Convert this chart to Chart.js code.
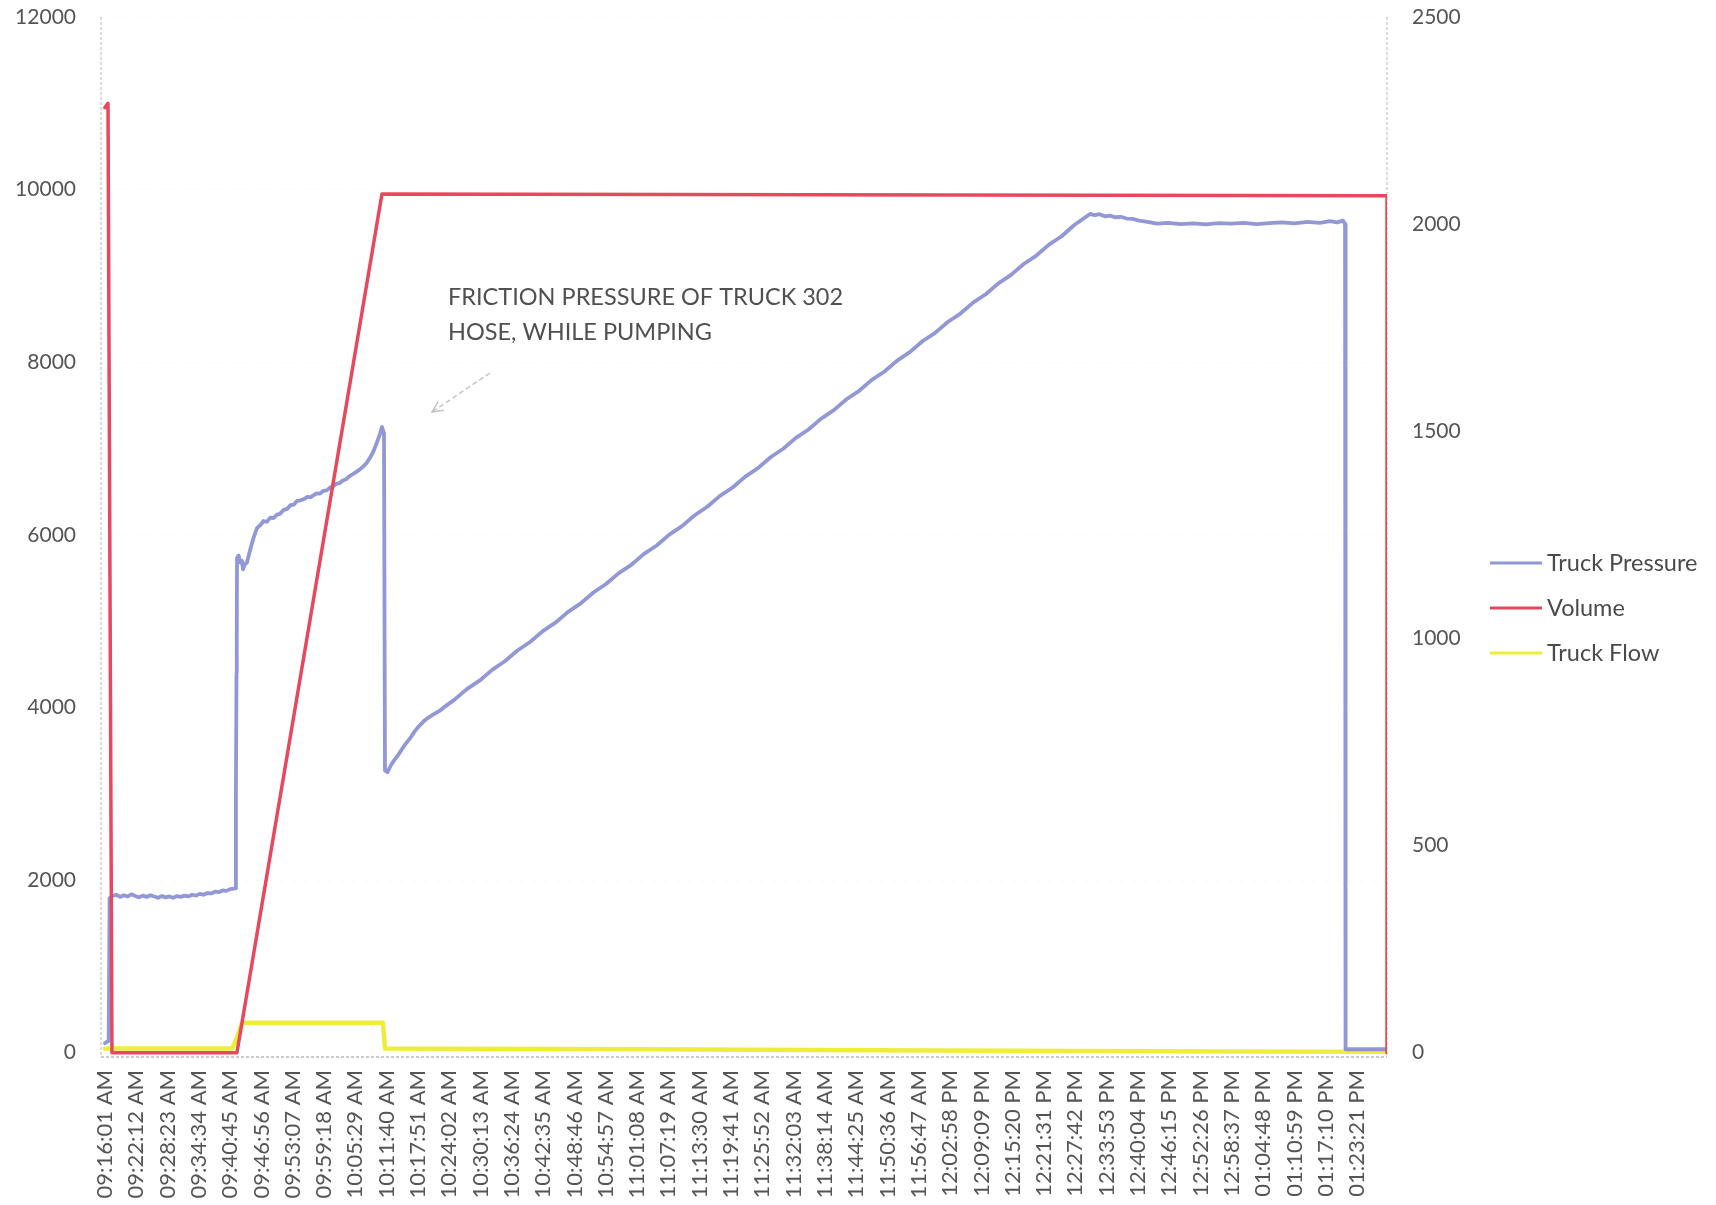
<!DOCTYPE html>
<html>
<head>
<meta charset="utf-8">
<title>Truck 302 pumping record</title>
<script src="https://cdn.jsdelivr.net/npm/chart.js@4.4.1/dist/chart.umd.min.js"></script>
<style>
  html, body { margin: 0; padding: 0; background: #ffffff; }
  #wrap { width: 1716px; height: 1205px; }
</style>
</head>
<body>
<div id="wrap"><canvas id="chart" width="1716" height="1205"></canvas></div>
<script>
// ---- Time axis ---------------------------------------------------------
const START_TIME = '09:16:01';

const timeLabels = [
  '09:16:01 AM', '09:22:12 AM', '09:28:23 AM', '09:34:34 AM', '09:40:45 AM',
  '09:46:56 AM', '09:53:07 AM', '09:59:18 AM', '10:05:29 AM', '10:11:40 AM',
  '10:17:51 AM', '10:24:02 AM', '10:30:13 AM', '10:36:24 AM', '10:42:35 AM',
  '10:48:46 AM', '10:54:57 AM', '11:01:08 AM', '11:07:19 AM', '11:13:30 AM',
  '11:19:41 AM', '11:25:52 AM', '11:32:03 AM', '11:38:14 AM', '11:44:25 AM',
  '11:50:36 AM', '11:56:47 AM', '12:02:58 PM', '12:09:09 PM', '12:15:20 PM',
  '12:21:31 PM', '12:27:42 PM', '12:33:53 PM', '12:40:04 PM', '12:46:15 PM',
  '12:52:26 PM', '12:58:37 PM', '01:04:48 PM', '01:10:59 PM', '01:17:10 PM',
  '01:23:21 PM'
];

// ---- Value axes ----------------------------------------------------------
const pressureTicks = [0, 2000, 4000, 6000, 8000, 10000, 12000];
const flowTicks = [0, 500, 1000, 1500, 2000, 2500];

// ---- Truck Pressure (psi, left axis) -----------------------------------
const pressureTimes = [
  '09:16:01', '09:16:45', '09:16:56', '09:17:30', '09:18:15', '09:19:00', '09:19:45',
  '09:20:30', '09:21:15', '09:22:00', '09:22:45', '09:23:30', '09:24:15', '09:25:00',
  '09:25:45', '09:26:30', '09:27:15', '09:28:00', '09:28:45', '09:29:30', '09:30:15',
  '09:31:00', '09:31:45', '09:32:30', '09:33:15', '09:34:00', '09:34:45', '09:35:30',
  '09:36:15', '09:37:00', '09:37:45', '09:38:30', '09:39:15', '09:40:00', '09:40:45',
  '09:41:30', '09:41:50', '09:41:53', '09:42:00', '09:42:03', '09:42:06', '09:42:25',
  '09:42:45', '09:43:05', '09:43:17', '09:43:40', '09:44:04', '09:44:40', '09:45:20',
  '09:46:03', '09:46:40', '09:47:20', '09:48:00', '09:48:40', '09:49:20', '09:50:00',
  '09:50:35', '09:51:20', '09:52:00', '09:52:40', '09:53:20', '09:53:57', '09:54:40',
  '09:55:20', '09:56:00', '09:56:40', '09:57:06', '09:57:50', '09:58:30', '09:59:10',
  '09:59:50', '10:00:30', '10:01:03', '10:01:40', '10:02:20', '10:03:00', '10:03:40',
  '10:04:20', '10:05:01', '10:05:40', '10:06:20', '10:07:00', '10:07:40', '10:08:22',
  '10:09:00', '10:09:40', '10:10:21', '10:10:44', '10:11:08', '10:11:20', '10:11:50',
  '10:12:30', '10:13:10', '10:13:50', '10:14:30', '10:15:10', '10:15:50', '10:16:30',
  '10:17:10', '10:17:50', '10:18:30', '10:19:10', '10:19:50', '10:20:40', '10:21:30',
  '10:22:20', '10:23:10', '10:25:00', '10:27:30', '10:30:00', '10:32:30', '10:35:00',
  '10:37:30', '10:40:00', '10:42:30', '10:45:00', '10:47:30', '10:50:00', '10:52:30',
  '10:55:00', '10:57:30', '11:00:00', '11:02:30', '11:05:00', '11:07:30', '11:10:00',
  '11:12:30', '11:15:00', '11:17:30', '11:20:00', '11:22:30', '11:25:00', '11:27:30',
  '11:30:00', '11:32:30', '11:35:00', '11:37:30', '11:40:00', '11:42:30', '11:45:00',
  '11:47:30', '11:50:00', '11:52:30', '11:55:00', '11:57:30', '12:00:00', '12:02:30',
  '12:05:00', '12:07:30', '12:10:00', '12:12:30', '12:15:00', '12:17:30', '12:20:00',
  '12:22:30', '12:25:00', '12:27:30', '12:30:36', '12:31:30', '12:32:30', '12:33:30',
  '12:34:33', '12:35:30', '12:36:40', '12:37:50', '12:39:06', '12:40:20', '12:41:40',
  '12:43:51', '12:46:00', '12:48:30', '12:51:00', '12:53:30', '12:56:00', '12:58:30',
  '13:01:00', '13:03:30', '13:06:00', '13:08:30', '13:11:00', '13:13:30', '13:16:00',
  '13:18:00', '13:19:24', '13:20:35', '13:20:59', '13:21:05', '13:29:16'
];
const pressureValues = [
  110, 140, 1790, 1815, 1830, 1805, 1825,
  1810, 1835, 1815, 1800, 1820, 1805, 1825,
  1810, 1795, 1815, 1800, 1810, 1795, 1815,
  1805, 1820, 1810, 1830, 1820, 1840, 1830,
  1850, 1845, 1865, 1860, 1880, 1875, 1895,
  1900, 1905, 3000, 4400, 4650, 5730, 5760,
  5680, 5700, 5600, 5660, 5680, 5820, 5960,
  6080, 6110, 6160, 6150, 6200, 6195, 6235,
  6243, 6290, 6300, 6345, 6350, 6394, 6400,
  6415, 6440, 6435, 6455, 6480, 6478, 6510,
  6515, 6550, 6565, 6590, 6598, 6630, 6645,
  6680, 6705, 6730, 6755, 6790, 6830, 6892,
  6960, 7060, 7170, 7250, 7180, 3270, 3250,
  3330, 3390, 3440, 3500, 3560, 3610, 3660,
  3720, 3770, 3810, 3850, 3880, 3910, 3940,
  3970, 4010, 4088, 4212, 4310, 4436, 4535,
  4660, 4758, 4884, 4982, 5108, 5206, 5332,
  5430, 5556, 5653, 5779, 5877, 6003, 6101,
  6227, 6325, 6451, 6549, 6675, 6773, 6899,
  6997, 7123, 7221, 7347, 7445, 7571, 7669,
  7795, 7893, 8019, 8117, 8243, 8340, 8466,
  8564, 8690, 8788, 8914, 9012, 9138, 9236,
  9362, 9460, 9590, 9718, 9705, 9715, 9690,
  9700, 9680, 9685, 9665, 9660, 9640, 9630,
  9605, 9615, 9600, 9610, 9598, 9612, 9605,
  9615, 9600, 9612, 9620, 9608, 9625, 9615,
  9635, 9620, 9640, 9600, 40, 40
];

// ---- Volume (left axis) ------------------------------------------------
const volumeTimes  = ['09:16:01', '09:16:37', '09:17:24', '09:42:05', '10:10:44', '13:29:16', '13:29:16'];
const volumeValues = [10950, 11000, 0, 0, 9950, 9930, 0];

// ---- Truck Flow (right axis) -------------------------------------------
const flowTimes  = ['09:16:01', '09:41:10', '09:42:30', '09:43:05', '10:10:56', '10:11:20', '11:00:00', '12:00:00', '13:00:00', '13:29:16'];
const flowValues = [10, 10, 50, 72, 72, 10, 8, 5, 3, 2];

// ---- Helpers -------------------------------------------------------------
function clockToSeconds(str) {
  const m = str.trim().match(/^(\d{1,2}):(\d{2}):(\d{2})(?:\s*(AM|PM))?$/i);
  let h = +m[1];
  if (m[4]) {
    const pm = m[4].toUpperCase() === 'PM';
    if (h === 12) h = pm ? 12 : 0; else if (pm) h += 12;
  }
  return h * 3600 + (+m[2]) * 60 + (+m[3]);
}
const t0 = clockToSeconds(START_TIME);
const elapsed = s => clockToSeconds(s) - t0;
const toPoints = (times, values) => times.map((t, i) => ({ x: elapsed(t), y: values[i] }));
const asTicks = values => values.map(v => ({ value: v }));

const FONT = 'Lato, "Open Sans", "Liberation Sans", sans-serif';
const TEXT = '#555555';

// Dotted frame lines on the left, right and bottom of the plot
const framePlugin = {
  id: 'frame',
  beforeDatasetsDraw(chart) {
    const { ctx, chartArea: a } = chart;
    ctx.save();
    ctx.lineWidth = 1.5;
    ctx.setLineDash([3, 2]);
    ctx.strokeStyle = '#cfcfcf';
    ctx.beginPath();
    ctx.moveTo(a.left, a.top); ctx.lineTo(a.left, a.bottom);
    ctx.moveTo(a.right, a.top); ctx.lineTo(a.right, a.bottom);
    ctx.stroke();
    ctx.strokeStyle = '#b9b9b9';
    ctx.beginPath();
    ctx.moveTo(a.left, a.bottom); ctx.lineTo(a.right, a.bottom);
    ctx.stroke();
    ctx.restore();
  }
};

// Text note with a dashed pointer arrow
const notePlugin = {
  id: 'note',
  afterDatasetsDraw(chart, args, o) {
    const { ctx, scales: { x, y } } = chart;
    ctx.save();
    ctx.font = o.font;
    ctx.fillStyle = o.color;
    ctx.textAlign = 'left';
    ctx.textBaseline = 'middle';
    const tx = x.getPixelForValue(elapsed(o.at[0]));
    const ty = y.getPixelForValue(o.at[1]);
    o.lines.forEach((line, i) => ctx.fillText(line, tx, ty + i * o.lineHeight));

    const x1 = x.getPixelForValue(elapsed(o.arrowFrom[0])), y1 = y.getPixelForValue(o.arrowFrom[1]);
    const x2 = x.getPixelForValue(elapsed(o.arrowTo[0])),   y2 = y.getPixelForValue(o.arrowTo[1]);
    ctx.strokeStyle = o.arrowColor;
    ctx.lineWidth = 1.5;
    ctx.setLineDash([5, 3]);
    ctx.beginPath(); ctx.moveTo(x1, y1); ctx.lineTo(x2, y2); ctx.stroke();
    ctx.setLineDash([]);
    const ang = Math.atan2(y2 - y1, x2 - x1), h = 12;
    ctx.beginPath();
    ctx.moveTo(x2 - h * Math.cos(ang - 0.45), y2 - h * Math.sin(ang - 0.45));
    ctx.lineTo(x2, y2);
    ctx.lineTo(x2 - h * Math.cos(ang + 0.45), y2 - h * Math.sin(ang + 0.45));
    ctx.stroke();
    ctx.restore();
  }
};

// Legend drawn to the right of the secondary axis
const sideLegendPlugin = {
  id: 'sideLegend',
  afterDraw(chart, args, o) {
    const { ctx, chartArea: a } = chart;
    ctx.save();
    ctx.font = o.font;
    ctx.textAlign = 'left';
    ctx.textBaseline = 'middle';
    chart.data.datasets.forEach((ds, i) => {
      const yy = o.top + i * o.rowGap;
      const lx = a.right + o.offset;
      ctx.strokeStyle = ds.borderColor;
      ctx.lineWidth = 3;
      ctx.beginPath(); ctx.moveTo(lx, yy); ctx.lineTo(lx + o.lineLength, yy); ctx.stroke();
      ctx.fillStyle = o.color;
      ctx.fillText(ds.label, lx + o.lineLength + 5, yy);
    });
    ctx.restore();
  }
};

// Keep the plot box fixed: the value axes add no extra space for their end labels
const noEndPadding = s => { s.paddingTop = 0; s.paddingBottom = 0; };

new Chart(document.getElementById('chart'), {
  type: 'line',
  data: {
    datasets: [
      { label: 'Truck Pressure', data: toPoints(pressureTimes, pressureValues), yAxisID: 'y',
        borderColor: 'rgba(126,134,206,0.85)', borderWidth: 3.8, order: 2 },
      { label: 'Volume', data: toPoints(volumeTimes, volumeValues), yAxisID: 'y',
        borderColor: '#e8485e', borderWidth: 3.5, order: 1 },
      { label: 'Truck Flow', data: toPoints(flowTimes, flowValues), yAxisID: 'y1',
        borderColor: '#eeee3a', borderWidth: 4.5, order: 3 }
    ]
  },
  options: {
    responsive: false,
    animation: false,
    events: [],
    elements: {
      point: { radius: 0 },
      line: { tension: 0, borderJoinStyle: 'round', borderCapStyle: 'round' }
    },
    layout: { padding: { top: 17, right: 229, bottom: 0, left: 0 } },
    plugins: {
      legend: { display: false },
      tooltip: { enabled: false },
      note: {
        lines: ['FRICTION PRESSURE OF TRUCK 302', 'HOSE, WHILE PUMPING'],
        at: ['10:23:47', 8755], lineHeight: 35,
        font: '23.5px ' + FONT, color: '#505050',
        arrowFrom: ['10:32:04', 7875], arrowTo: ['10:20:37', 7423], arrowColor: '#c4c4c4'
      },
      sideLegend: { font: '23.5px ' + FONT, color: '#4a4a4a', top: 563, rowGap: 45, offset: 103, lineLength: 52 }
    },
    scales: {
      x: {
        type: 'linear',
        min: elapsed('09:15:14'),
        max: elapsed('13:29:16'),
        afterBuildTicks: s => { s.ticks = timeLabels.map(l => ({ value: elapsed(l) })); },
        afterFit: s => { s.height = 148; },
        grid: { display: false, drawTicks: false },
        border: { display: false },
        ticks: {
          autoSkip: false, minRotation: 90, maxRotation: 90, padding: 13,
          font: { family: FONT, size: 22 }, color: TEXT,
          callback: (v, i) => timeLabels[i]
        }
      },
      y: {
        position: 'left',
        min: -50, max: 12000,
        afterBuildTicks: s => { s.ticks = asTicks(pressureTicks); },
        afterFit: s => { s.width = 101; noEndPadding(s); },
        grid: { color: 'rgba(0,0,0,0.04)', drawTicks: false },
        border: { display: false, dash: [2, 10] },
        ticks: { padding: 25, font: { family: FONT, size: 21 }, color: TEXT,
                 callback: v => String(v) }
      },
      y1: {
        position: 'right',
        min: -50 * 2500 / 12000, max: 2500,
        afterBuildTicks: s => { s.ticks = asTicks(flowTicks); },
        afterFit: s => { s.width = 100; noEndPadding(s); },
        grid: { display: false, drawTicks: false },
        border: { display: false },
        ticks: { padding: 25, font: { family: FONT, size: 21 }, color: TEXT,
                 callback: v => String(v) }
      }
    }
  },
  plugins: [framePlugin, notePlugin, sideLegendPlugin]
});
</script>
</body>
</html>
